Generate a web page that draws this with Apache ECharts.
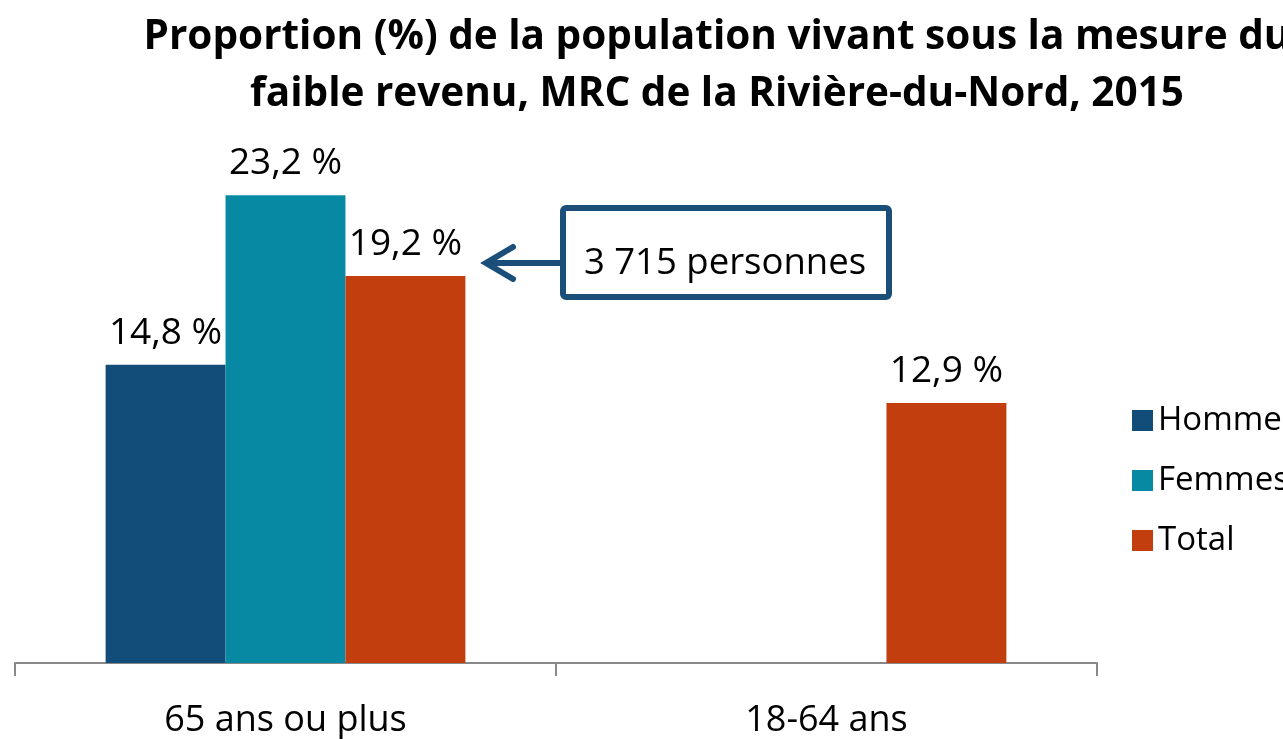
<!DOCTYPE html>
<html>
<head>
<meta charset="utf-8">
<script src="https://cdn.jsdelivr.net/npm/echarts@6/dist/echarts.min.js"></script>
<style>
  html, body { margin: 0; padding: 0; background: #fff; }
  #chart { width: 1283px; height: 739px; }
</style>
</head>
<body>
<div id="chart"></div>
<script>
const categories = ['65 ans ou plus', '18-64 ans']
const hommes = [14.8, null]
const femmes = [23.2, null]
const total = [19.2, 12.9]
const seriesNames = ['Hommes', 'Femmes', 'Total']
const calloutText = '3 715 personnes'

const font = '"Open Sans", "Liberation Sans", sans-serif'
const colors = ['#114d78', '#0889a3', '#c23e0f']

const chart = echarts.init(document.getElementById('chart'))

const fmt = (p) => p.value.toFixed(1).replace('.', ',') + ' %'

const barSeries = (name, data, color) => ({
  name,
  type: 'bar',
  data,
  barGap: 0,
  barCategoryGap: '33.5%',
  itemStyle: { color },
  label: {
    show: true,
    position: 'top',
    distance: 13,
    formatter: fmt,
    color: '#000',
    fontFamily: font,
    fontSize: 37,
  },
})

chart.setOption({
  animation: false,
  color: colors,
  title: {
    text: 'Proportion (%) de la population vivant sous la mesure du\nfaible revenu, MRC de la Rivière-du-Nord, 2015',
    left: 712,
    top: 4,
    textAlign: 'center',
    textStyle: {
      fontFamily: font,
      fontWeight: 'bold',
      fontSize: 40.5,
      lineHeight: 57,
      color: '#000',
    },
  },
  legend: {
    orient: 'vertical',
    left: 1127,
    top: 399,
    itemWidth: 21,
    itemHeight: 21,
    itemGap: 27,
    icon: 'rect',
    textStyle: { fontFamily: font, fontSize: 33, lineHeight: 33, color: '#000' },
    data: seriesNames,
  },
  grid: { left: 15, right: 186, top: 159, bottom: 76 },
  xAxis: {
    type: 'category',
    data: categories,
    axisLine: { lineStyle: { color: '#898989', width: 2 } },
    axisTick: { show: true, length: 13, lineStyle: { color: '#898989', width: 2 } },
    axisLabel: { fontFamily: font, fontSize: 36, color: '#000', margin: 40 },
  },
  yAxis: {
    type: 'value',
    min: 0,
    max: 25,
    show: false,
  },
  series: [
    barSeries(seriesNames[0], hommes, colors[0]),
    barSeries(seriesNames[1], femmes, colors[1]),
    barSeries(seriesNames[2], total, colors[2]),
  ],
  graphic: [
    {
      type: 'rect',
      shape: { x: 563, y: 208, width: 326, height: 89, r: 3 },
      style: { fill: '#fff', stroke: '#1b4f79', lineWidth: 6 },
    },
    {
      type: 'text',
      x: 725,
      y: 264,
      style: {
        text: calloutText,
        fontFamily: font,
        fontSize: 36.5,
        fill: '#000',
        align: 'center',
        verticalAlign: 'middle',
      },
    },
    {
      type: 'polyline',
      shape: { points: [[560, 263], [486, 263]] },
      style: { stroke: '#1b4f79', lineWidth: 6 },
    },
    {
      type: 'polyline',
      shape: { points: [[513, 247], [486, 263], [513, 279]] },
      style: { stroke: '#1b4f79', lineWidth: 6, lineCap: 'round', lineJoin: 'miter', fill: null },
    },
  ],
})

window.addEventListener('resize', () => chart.resize())
</script>
</body>
</html>
